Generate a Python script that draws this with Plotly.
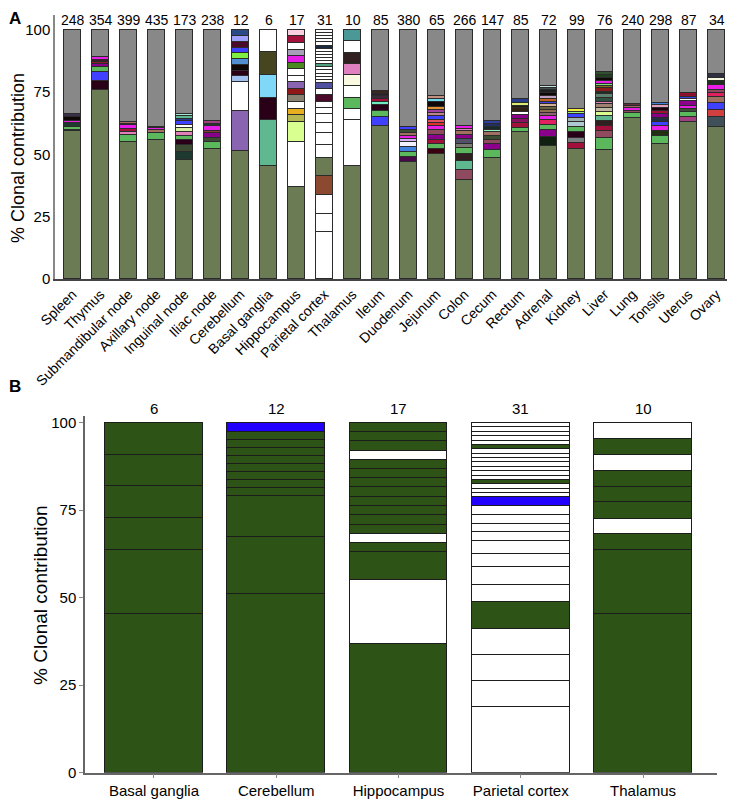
import plotly.graph_objects as go

# ---------------- DATA ----------------
tissues_A = ["Spleen", "Thymus", "Submandibular node", "Axillary node", "Inguinal node",
             "Iliac node", "Cerebellum", "Basal ganglia", "Hippocampus", "Parietal cortex",
             "Thalamus", "Ileum", "Duodenum", "Jejunum", "Colon", "Cecum", "Rectum",
             "Adrenal", "Kidney", "Liver", "Lung", "Tonsils", "Uterus", "Ovary"]
counts_A = [248, 354, 399, 435, 173, 238, 12, 6, 17, 31, 10, 85, 380, 65, 266, 147, 85,
            72, 99, 76, 240, 298, 87, 34]

# clone contributions (%) from bottom of each bar; the grey remainder = other clones
spleen = [59.4, 0.6, 1.2, 1.3, 1.1, 1.6, 1.0]
thymus = [75.9, 3.6, 3.5, 2.2, 1.0, 1.0, 0.8, 1.0, 0.3]
submandibular = [54.9, 3.1, 1.1, 1.3, 1.3, 0.5, 0.8]
axillary = [55.7, 2.8, 0.3, 0.9, 1.1, 0.4]
inguinal = [47.8, 3.1, 2.9, 2.1, 1.5, 1.6, 1.6, 1.2, 1.7, 0.9, 1.2, 0.8]
iliac = [52.1, 2.8, 1.9, 1.7, 0.9, 1.9, 0.9, 1.3]
cerebellum = [51.2, 16.3, 11.6, 2.3, 2.3, 2.3, 2.3, 2.3, 2.3, 2.3, 2.3, 2.4]
basal = [45.5, 18.2, 9.1, 9.1, 9.1, 9.0]
hippocampus = [36.8, 18.4, 7.9, 2.6, 2.7, 2.6, 2.7, 2.6, 2.7, 2.6, 2.6, 2.7, 2.6, 2.6,
               2.7, 2.6, 2.6]
parietal = [18.75, 7.5, 7.5, 7.5, 7.5, 5.0, 5.0, 3.75, 3.75, 2.5, 2.5, 2.5, 2.5, 2.5,
            1.25, 1.25, 1.25, 1.25, 1.25, 1.25, 1.25, 1.25, 1.25, 1.25, 1.25, 1.25,
            1.25, 1.25, 1.25, 1.25, 1.25]
thalamus = [45.5, 18.2, 4.5, 4.5, 4.6, 4.5, 4.6, 4.5, 4.6, 4.5]
ileum = [61.4, 3.5, 2.5, 2.4, 1.3, 1.2, 1.1, 1.0, 0.9]
duodenum = [46.9, 2.1, 2.1, 2.0, 1.9, 1.1, 1.3, 1.1, 1.3, 1.3]
jejunum = [50.1, 2.1, 2.1, 1.7, 2.0, 1.7, 1.6, 1.3, 1.3, 1.7, 1.1, 1.2, 1.3, 1.7, 1.3, 1.3]
colon = [39.8, 4.0, 3.6, 2.8, 2.4, 1.6, 1.9, 1.6, 1.7, 0.9, 1.3]
cecum = [48.5, 3.1, 2.7, 1.6, 1.7, 1.3, 0.9, 1.3, 1.1, 1.1]
rectum = [58.9, 1.9, 1.7, 1.6, 1.7, 1.2, 1.5, 1.1, 1.2, 1.3]
adrenal = [53.5, 3.6, 2.9, 2.0, 1.7, 1.6, 1.5, 1.2, 1.1, 1.1, 0.9, 1.2, 1.1, 1.3, 1.1, 0.9, 0.9]
kidney = [52.1, 2.4, 2.0, 2.4, 2.0, 2.0, 1.6, 1.6, 0.8, 1.2]
liver = [51.8, 4.7, 2.9, 2.1, 1.9, 2.0, 1.5, 1.9, 1.3, 1.1, 1.6, 1.3, 1.1, 1.3, 0.9, 0.9,
         1.1, 1.3, 1.3, 1.3]
lung = [64.5, 2.0, 0.9, 1.3, 0.8, 0.9]
tonsils = [54.1, 3.5, 1.9, 2.1, 1.6, 1.3, 1.6, 1.3, 1.3, 1.1, 0.9]
uterus = [62.9, 2.3, 1.7, 1.2, 1.3, 2.0, 0.7, 1.1, 1.3]
ovary = [60.9, 4.0, 2.9, 2.9, 2.4, 1.7, 1.2, 1.7, 1.7, 1.3, 1.6]

tissues_B = ["Basal ganglia", "Cerebellum", "Hippocampus", "Parietal cortex", "Thalamus"]
counts_B = [6, 12, 17, 31, 10]
basal_B = [45.5, 18.2, 9.1, 9.1, 9.1, 9.0]
cerebellum_B = [51.2, 16.3, 11.6, 2.3, 2.3, 2.3, 2.3, 2.3, 2.3, 2.3, 2.3, 2.5]
hippocampus_B = [36.8, 18.4, 7.9, 2.6, 2.7, 2.6, 2.7, 2.6, 2.7, 2.6, 2.6, 2.7, 2.6, 2.6,
                 2.7, 2.6, 2.6]
parietal_B = [18.75, 7.5, 7.5, 7.5, 7.5, 5.0, 5.0, 3.75, 3.75, 2.5, 2.5, 2.5, 2.5, 2.5,
              1.25, 1.25, 1.25, 1.25, 1.25, 1.25, 1.25, 1.25, 1.25, 1.25, 1.25, 1.25,
              1.25, 1.25, 1.25, 1.25, 1.25]
thalamus_B = [45.5, 18.2, 4.5, 4.5, 4.6, 4.5, 4.6, 4.5, 4.6, 4.5]
# clone category in panel B: S = shared (green), U = unique (white), X = blue
kind_basal = ["S", "S", "S", "S", "S", "S"]
kind_cerebellum = ["S"] * 11 + ["X"]
kind_hippocampus = ["S", "U", "S", "S", "U"] + ["S"] * 8 + ["U", "S", "S", "S"]
kind_parietal = ["U", "U", "U", "U", "S", "U", "U", "U", "U", "U", "U", "U", "U", "X",
                 "U", "U", "U", "S", "U", "U", "U", "U", "U", "U", "U", "S", "U", "U",
                 "U", "U", "U"]
kind_thalamus = ["S", "S", "S", "U", "S", "S", "S", "U", "S", "U"]

# ---------------- STYLE ----------------
OL = "#6b7b53"; GY = "#888888"; LG = "#5cb85c"; MG = "#e61ee6"; PU = "#8b008b"
CR = "#a3103c"; MV = "#904a60"; BR = "#a07060"; DO = "#3c4c32"; DT = "#1e3a30"
BK = "#100808"; DM = "#2a0018"; BL = "#4040ff"; NV = "#2a3a8a"; WH = "#ffffff"
PK = "#e080b8"; TG = "#60b890"

colors_A = [
    [OL, DO, LG, DT, MG, BK, "#3a3048"],
    [OL, DM, BL, LG, PU, "#8b1a2a", "#3a1a2a", MG, PK],
    [OL, LG, PK, CR, MG, "#3a2030", BR],
    [OL, LG, DO, BR, MG, "#3a2030"],
    [OL, DT, DO, DM, LG, PK, "#d8f0a0", WH, BL, NV, TG, "#a0e8d0"],
    [OL, LG, DO, PU, "#8b3a3a", MG, DT, "#a04080"],
    [OL, "#8a64b0", WH, "#a0c0f0", DM, BK, "#5090d0", "#80f040", BL, "#4a0a2a", "#a0a0ff", "#2a4a8a"],
    [OL, TG, DM, "#80d8f8", "#454520", WH],
    [OL, WH, "#d8ff90", "#b8b850", "#e8b020", WH, "#888070", "#901818", "#8a64b0", WH, WH,
     "#4a8a20", MG, "#a8a0b8", WH, CR, "#f8d0e0"],
    [WH, WH, WH, "#8b4a30", OL, WH, WH, WH, WH, WH, WH, "#4a0a2a", WH, "#5050a0",
     WH, WH, WH, WH, WH, "#50a080", WH, WH, WH, WH, WH, "#1a2a40", WH, WH, WH, WH, WH],
    [OL, WH, WH, LG, WH, "#fafae0", "#e080c0", "#302020", WH, "#4a9898"],
    [OL, BL, LG, DM, "#70e8c0", CR, "#3a2a3a", "#2a2030", "#3a2820"],
    [OL, "#4a0a4a", LG, "#4080e0", "#f0f0ff", "#d0b0f0", MG, BR, DO, BL],
    [OL, "#3a0010", LG, CR, PU, MV, MG, "#e03030", "#e05060", BL, "#c08090", "#a040a0",
     "#e09030", BK, "#70d8e8", "#c09080"],
    [OL, MV, TG, "#302020", LG, "#7a7a70", "#505068", PU, BR, PK, MG],
    [OL, LG, PU, MV, DO, BR, "#90f0c0", "#1a2a2a", "#203060", "#3040a0"],
    [OL, LG, CR, "#8b1060", PU, WH, "#302010", "#201810", "#d8e870", NV],
    [OL, "#102010", PU, LG, "#e02060", MG, "#906070", "#8a7050", "#6a6040", "#d0b090",
     "#4040e0", "#c06020", "#c0a0c0", BK, "#202020", "#405050", "#c0e0e0"],
    [OL, CR, "#7a8080", DM, LG, "#b0c8d0", "#a0b0b0", BL, "#a0f080", "#f0f040"],
    [OL, LG, MV, CR, "#302020", TG, "#d8ff90", "#c0b8a0", "#a08070", PK, "#305040",
     "#608070", "#203020", "#8b1a1a", "#807020", "#80e080", MG, BK, "#204020", "#305030"],
    [OL, LG, MV, MG, "#a06060", "#603040"],
    [OL, LG, "#203010", MG, BL, "#203040", PU, CR, "#200010", "#e0a0c0", "#4080e0"],
    [OL, "#a04080", LG, DO, MG, PU, WH, "#4040e0", "#901030"],
    [OL, "#405058", "#d04040", BL, BR, "#e02060", MV, MG, "#203020", "#f8f8e0", "#303040"],
]
KIND_COLORS = {"S": "#2d5316", "U": "#ffffff", "X": "#2200ff"}
FONT = "Liberation Sans, Arial, sans-serif"

vals_A = [spleen, thymus, submandibular, axillary, inguinal, iliac, cerebellum, basal,
          hippocampus, parietal, thalamus, ileum, duodenum, jejunum, colon, cecum, rectum,
          adrenal, kidney, liver, lung, tonsils, uterus, ovary]
vals_B = [basal_B, cerebellum_B, hippocampus_B, parietal_B, thalamus_B]
kinds_B = [kind_basal, kind_cerebellum, kind_hippocampus, kind_parietal, kind_thalamus]
colors_B = [[KIND_COLORS[k] for k in ks] for ks in kinds_B]

fig = go.Figure()


def add_stacks(cats, vals, cols, xa, ya, width, line_color, rest_color=None):
    segs = []
    for v, c in zip(vals, cols):
        s = list(zip(v, c))
        rest = 100 - sum(v)
        if rest_color and rest > 0.2:
            s.append((rest, rest_color))
        segs.append(s)
    nmax = max(len(s) for s in segs)
    for k in range(nmax):
        xs, ys, cs = [], [], []
        for cat, s in zip(cats, segs):
            if k < len(s):
                xs.append(cat)
                ys.append(s[k][0])
                cs.append(s[k][1])
        fig.add_trace(go.Bar(x=xs, y=ys, width=width, xaxis=xa, yaxis=ya,
                             marker=dict(color=cs, line=dict(color=line_color, width=1)),
                             showlegend=False, hoverinfo="skip"))


add_stacks(tissues_A, vals_A, colors_A, "x", "y", 0.61, "#2b2b2b", GY)
add_stacks(tissues_B, vals_B, colors_B, "x2", "y2", 0.80, "#1c1c1c")

# page body has an 8px margin: work in window pixels and convert to paper coords
OFF = 8
W, H = 735 - OFF, 799 - OFF


def PX(x):
    return (x - OFF) / W


def PY(y):
    return 1 - (y - OFF) / H


ann = []
for t, c in zip(tissues_A, counts_A):
    ann.append(dict(x=t, y=100, xref="x", yref="y", text=str(c), showarrow=False,
                    yanchor="bottom", yshift=0, font=dict(size=14, color="black", family=FONT)))
for t, c in zip(tissues_B, counts_B):
    ann.append(dict(x=t, y=100, xref="x2", yref="y2", text=str(c), showarrow=False,
                    yanchor="bottom", yshift=4, font=dict(size=15, color="black", family=FONT)))
ann.append(dict(x=PX(15), y=PY(19), xref="paper", yref="paper", text="<b>A</b>",
                xanchor="center", yanchor="middle",
                showarrow=False, font=dict(size=17, color="black", family=FONT)))
ann.append(dict(x=PX(15), y=PY(386), xref="paper", yref="paper", text="<b>B</b>",
                xanchor="center", yanchor="middle",
                showarrow=False, font=dict(size=17, color="black", family=FONT)))
ann.append(dict(x=PX(18), y=PY(158), xref="paper", yref="paper", text="% Clonal contribution",
                xanchor="center", yanchor="middle",
                textangle=-90, showarrow=False, font=dict(size=18, color="black", family=FONT)))
ann.append(dict(x=PX(40), y=PY(595), xref="paper", yref="paper", text="% Clonal contribution",
                xanchor="center", yanchor="middle",
                textangle=-90, showarrow=False, font=dict(size=19, color="black", family=FONT)))

fig.update_layout(
    width=W, height=H, barmode="stack", bargap=0,
    margin=dict(l=0, r=0, t=0, b=0, autoexpand=False),
    paper_bgcolor="white", plot_bgcolor="white",
    font=dict(family=FONT, color="black"),
    annotations=ann,
    xaxis=dict(domain=[PX(55), PX(732)], anchor="y", type="category",
               categoryorder="array", categoryarray=tissues_A, automargin=False,
               range=[-0.625, 23.55], tickangle=-45, tickfont=dict(size=14),
               showline=True, linecolor="#444", linewidth=1.5, ticks="", showgrid=False),
    yaxis=dict(domain=[PY(279), PY(15)], anchor="x", range=[0, 106], automargin=False,
               tickvals=[0, 25, 50, 75, 100], tickfont=dict(size=15),
               showline=True, linecolor="#888", linewidth=1.5, ticks="", showgrid=False,
               zeroline=False),
    xaxis2=dict(domain=[PX(85), PX(717)], anchor="y2", type="category",
                categoryorder="array", categoryarray=tissues_B, automargin=False,
                range=[-0.564, 4.605], tickfont=dict(size=15),
                showline=True, linecolor="#666", linewidth=1.5, ticks="outside",
                ticklen=4, tickcolor="#888", showgrid=False),
    yaxis2=dict(domain=[PY(772.7), PY(415.7)], anchor="x2", range=[0, 102],
                automargin=False,
                tickvals=[0, 25, 50, 75, 100], tickfont=dict(size=15),
                showline=True, linecolor="#666", linewidth=1.5, ticks="outside",
                ticklen=4, tickcolor="#888", showgrid=False, zeroline=False),
)

fig.write_html("out.html")
